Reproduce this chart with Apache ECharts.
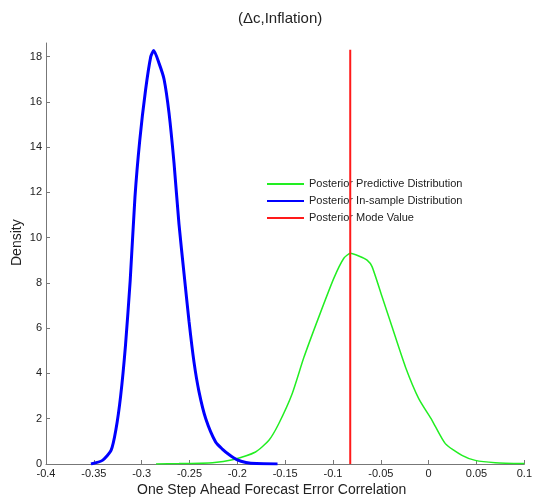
<!DOCTYPE html>
<html>
<head>
    <meta charset="UTF-8">
    <title>(Δc,Inflation)</title>
    <script src="https://cdn.jsdelivr.net/npm/echarts@6/dist/echarts.min.js"></script>
    <style>
        body { margin: 0; background: #fff; }
    </style>
</head>
<body>
    <div id="chart" style="width:535px; height:497px;"></div>

    <script>
        // data
        var xTicks = [-0.4, -0.35, -0.3, -0.25, -0.2, -0.15, -0.1, -0.05, 0, 0.05, 0.1];
        var yTicks = [0, 2, 4, 6, 8, 10, 12, 14, 16, 18];

        var inSampleX = [-0.353, -0.341, -0.332, -0.327, -0.322, -0.317, -0.312, -0.307, -0.302, -0.296, -0.2905, -0.2874, -0.2818, -0.2766, -0.2714, -0.2662, -0.261, -0.2557, -0.2505, -0.2453, -0.2401, -0.233, -0.2227, -0.2157, -0.2088, -0.2, -0.191, -0.18, -0.158];
        var inSampleY = [0, 0.16, 0.6, 1.5, 3.0, 5.2, 8.1, 11.8, 14.3, 16.5, 18.0, 18.27, 17.7, 17.0, 15.5, 13.3, 10.6, 8.4, 6.3, 4.5, 3.2, 2.0, 0.97, 0.66, 0.42, 0.18, 0.07, 0.02, 0];

        var predictiveX = [-0.285, -0.261, -0.226, -0.205, -0.181, -0.167, -0.1566, -0.1427, -0.1305, -0.1148, -0.0992, -0.0887, -0.0817, -0.0731, -0.0644, -0.0592, -0.0487, -0.0383, -0.0243, -0.0104, 0.0035, 0.0174, 0.0348, 0.0487, 0.0696, 0.1];
        var predictiveY = [0, 0.02, 0.06, 0.19, 0.53, 1.05, 1.79, 3.1, 4.7, 6.5, 8.2, 9.09, 9.31, 9.19, 9.01, 8.72, 7.39, 6.06, 4.29, 2.89, 1.93, 0.9, 0.38, 0.16, 0.06, 0.02];

        var modeValue = -0.082;
        var modeTop = 18.3;

        function pairs(xs, ys) {
            return xs.map(function (x, i) { return [x, ys[i]]; });
        }

        var chart = echarts.init(document.getElementById('chart'), null, {renderer: 'canvas'});

        var font = 'Liberation Sans, Arial, sans-serif';

        chart.setOption({
            backgroundColor: '#fff',
            animation: false,
            title: {
                text: '(Δc,Inflation)',
                left: 233,
                top: 6,
                textStyle: {fontFamily: font, fontSize: 15, fontWeight: 'normal', color: '#222'}
            },
            graphic: [
                {
                    type: 'text',
                    left: 137,
                    top: 483,
                    style: {text: 'One Step Ahead Forecast Error Correlation', font: '14px ' + font, fill: '#222'}
                },
                {
                    type: 'text',
                    x: 10,
                    y: 266,
                    rotation: Math.PI / 2,
                    style: {text: 'Density', font: '14px ' + font, fill: '#222'}
                }
            ],
            legend: {
                orient: 'vertical',
                left: 266,
                top: 177,
                padding: 0,
                itemWidth: 37,
                itemHeight: 14,
                itemGap: 3,
                itemStyle: {opacity: 0},
                textStyle: {fontFamily: font, fontSize: 11, color: '#222', lineHeight: 14, height: 14},
                data: ['Posterior Predictive Distribution', 'Posterior In-sample Distribution', 'Posterior Mode Value']
            },
            grid: {left: 46, right: 8, top: 43, bottom: 33},
            xAxis: {
                type: 'value',
                min: -0.4,
                max: 0.1,
                interval: 0.05,
                splitLine: {show: false},
                axisLine: {onZero: false, lineStyle: {color: '#777', width: 1}},
                axisTick: {inside: true, length: 4, lineStyle: {color: '#777'}},
                axisLabel: {
                    customValues: xTicks,
                    margin: 4,
                    fontFamily: font,
                    fontSize: 11,
                    color: '#222'
                }
            },
            yAxis: {
                type: 'value',
                min: 0,
                max: 18.6,
                splitLine: {show: false},
                axisLine: {show: true, onZero: false, lineStyle: {color: '#777', width: 1}},
                axisTick: {show: true, inside: true, length: 4, customValues: yTicks, lineStyle: {color: '#777'}},
                axisLabel: {
                    customValues: yTicks,
                    margin: 4,
                    fontFamily: font,
                    fontSize: 11,
                    color: '#222'
                }
            },
            series: [
                {
                    name: 'Posterior Predictive Distribution',
                    type: 'line',
                    data: pairs(predictiveX, predictiveY),
                    symbol: 'none',
                    smooth: 0.2,
                    lineStyle: {color: '#22ee22', width: 1.5},
                    itemStyle: {color: '#22ee22'},
                    z: 2
                },
                {
                    name: 'Posterior In-sample Distribution',
                    type: 'line',
                    data: pairs(inSampleX, inSampleY),
                    symbol: 'none',
                    smooth: 0.2,
                    lineStyle: {color: '#0000ff', width: 3},
                    itemStyle: {color: '#0000ff'},
                    z: 3
                },
                {
                    name: 'Posterior Mode Value',
                    type: 'line',
                    data: [[modeValue, 0], [modeValue, modeTop]],
                    symbol: 'none',
                    lineStyle: {color: '#ff1a1a', width: 2},
                    itemStyle: {color: '#ff1a1a'},
                    z: 4
                }
            ]
        });
    </script>
</body>
</html>
